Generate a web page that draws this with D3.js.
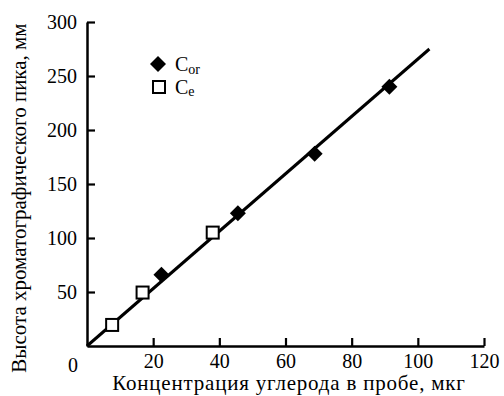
<!DOCTYPE html>
<html>
<head>
<meta charset="utf-8">
<script src="https://cdn.jsdelivr.net/npm/d3@7"></script>
</head>
<body style="margin:0;background:#fff">
<svg id="chart" width="504" height="396"></svg>
<script>
// data
const corX = [22.5, 45.6, 68.8, 91.4];
const corY = [66, 123, 178, 240];
const ceX = [7.6, 16.8, 38];
const ceY = [19.5, 49.5, 105];
const fitX = [0, 103.5];
const fitY = [0, 275];
const xTicks = [20, 40, 60, 80, 100, 120];
const yTicks = [50, 100, 150, 200, 250, 300];

const FONT = '"Liberation Serif", "FreeSerif", "DejaVu Serif"';
const svg = d3.select('#chart');

const x = d3.scaleLinear().domain([0, 120]).range([87, 484]);
const y = d3.scaleLinear().domain([0, 300]).range([346, 22]);

// x axis, ticks pointing inside
const xAxis = svg.append('g')
    .attr('transform', `translate(0,${y(0)})`)
    .call(d3.axisBottom(x).tickValues(xTicks).tickSize(-8).tickPadding(14).tickSizeOuter(0));

// y axis
const yAxis = svg.append('g')
    .attr('transform', `translate(${x(0)},0)`)
    .call(d3.axisLeft(y).tickValues(yTicks).tickSize(-8).tickPadding(10).tickSizeOuter(0));

[xAxis, yAxis].forEach(g => {
    g.attr('font-size', 20);
    g.select('.domain').attr('stroke', '#000').attr('stroke-width', 2.5);
    g.selectAll('.tick line').attr('stroke', '#000').attr('stroke-width', 2.2);
    g.selectAll('.tick text').attr('fill', '#000').style('font-family', FONT);
});
xAxis.selectAll('.tick text').attr('dy', '0.71em').attr('y', 8);

// shared zero label at corner
svg.append('text')
    .attr('x', x(0) - 14).attr('y', y(0) + 26)
    .attr('text-anchor', 'middle').attr('font-size', 20)
    .style('font-family', FONT)
    .text('0');

// fitted line
svg.append('path')
    .datum(fitX.map((d, i) => [d, fitY[i]]))
    .attr('fill', 'none').attr('stroke', '#000').attr('stroke-width', 3)
    .attr('d', d3.line().x(d => x(d[0])).y(d => y(d[1])));

const diamond = 'M0,-8L8,0L0,8L-8,0Z';

svg.append('g').selectAll('path')
    .data(corX.map((d, i) => [d, corY[i]]))
    .join('path')
    .attr('transform', d => `translate(${x(d[0])},${y(d[1])})`)
    .attr('d', diamond)
    .attr('fill', '#000');

svg.append('g').selectAll('rect')
    .data(ceX.map((d, i) => [d, ceY[i]]))
    .join('rect')
    .attr('x', d => x(d[0]) - 6).attr('y', d => y(d[1]) - 6)
    .attr('width', 12).attr('height', 12)
    .attr('fill', '#fff').attr('stroke', '#000').attr('stroke-width', 2);

// legend
const leg = svg.append('g');
leg.append('path').attr('transform', 'translate(158,64)').attr('d', diamond).attr('fill', '#000');
leg.append('rect').attr('x', 153).attr('y', 81).attr('width', 12).attr('height', 12)
    .attr('fill', '#fff').attr('stroke', '#000').attr('stroke-width', 2);
const t1 = leg.append('text').attr('x', 175).attr('y', 71).attr('font-size', 20).style('font-family', FONT);
t1.append('tspan').text('C');
t1.append('tspan').attr('font-size', 14).attr('dy', 3).text('or');
const t2 = leg.append('text').attr('x', 175).attr('y', 94).attr('font-size', 20).style('font-family', FONT);
t2.append('tspan').text('C');
t2.append('tspan').attr('font-size', 14).attr('dy', 2).text('e');

// axis titles
svg.append('text')
    .attr('x', 289).attr('y', 390)
    .attr('text-anchor', 'middle').attr('font-size', 21)
    .attr('letter-spacing', 0.8)
    .style('font-family', FONT)
    .text('Концентрация углерода в пробе, мкг');

svg.append('text')
    .attr('transform', 'translate(26,198) rotate(-90)')
    .attr('text-anchor', 'middle').attr('font-size', 21)
    .style('font-family', FONT)
    .text('Высота хроматографического пика, мм');
</script>
</body>
</html>
